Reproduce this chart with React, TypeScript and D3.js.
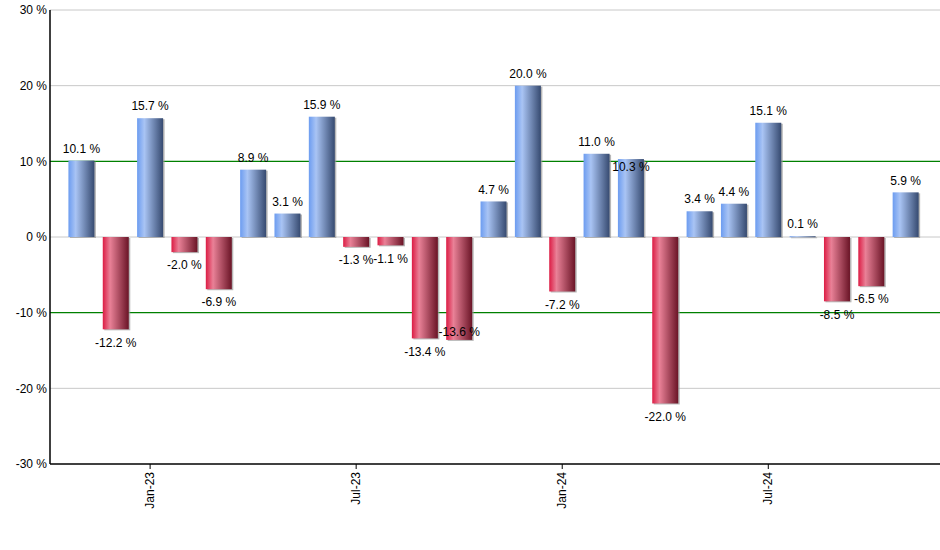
import React from "react";
import * as d3 from "d3";

const months = [
  "Nov-22","Dec-22","Jan-23","Feb-23","Mar-23","Apr-23","May-23","Jun-23","Jul-23","Aug-23","Sep-23","Oct-23","Nov-23","Dec-23",
  "Jan-24","Feb-24","Mar-24","Apr-24","May-24","Jun-24","Jul-24","Aug-24","Sep-24","Oct-24","Nov-24",
];
const values = [10.1, -12.2, 15.7, -2.0, -6.9, 8.9, 3.1, 15.9, -1.3, -1.1, -13.4, -13.6, 4.7, 20.0, -7.2, 11.0, 10.3, -22.0, 3.4, 4.4, 15.1, 0.1, -8.5, -6.5, 5.9];
const xTickLabels = ["Jan-23", "Jul-23", "Jan-24", "Jul-24"];
const yTicks = [-30, -20, -10, 0, 10, 20, 30];
const greenLines = [10, -10];

const W = 940, H = 550;
const left = 50, top = 10, right = 940, bottom = 464;
const font = "'Liberation Sans Narrow', 'Arial Narrow', 'Liberation Sans', Arial, sans-serif";
const fs = 12;

// approximate label width (px) used for collision detection
function estWidth(s: string) {
  let w = 0;
  for (const c of s) {
    if (c >= "0" && c <= "9") w += 6;
    else if (c === ".") w += 3;
    else if (c === "-") w += 4;
    else if (c === " ") w += 3;
    else if (c === "%") w += 9.5;
    else w += 6;
  }
  return w;
}

export default function App() {
  const x = d3.scaleLinear().domain([-0.915, values.length - 1 + 1.0]).range([left, right]);
  const y = d3.scaleLinear().domain([-30, 30]).range([bottom, top]);
  const bw = 26;

  const labels: { x: number; y: number; w: number; text: string }[] = [];
  values.forEach((v, i) => {
    const cx = x(i);
    const text = `${v.toFixed(1)} %`;
    const w = estWidth(text);
    let ly = v >= 0 ? y(v) - 12 : y(v) + 13;
    const prev = labels[i - 1];
    if (prev && Math.abs(prev.y - ly) < 12 && Math.abs(prev.x - cx) < (prev.w + w) / 2 + 1) {
      ly = v >= 0 ? y(v) + 8 : y(v) - 8;
    }
    labels.push({ x: cx, y: ly, w, text });
  });

  return (
    <svg width={W} height={H} style={{ position: "absolute", left: 0, top: 0, background: "#fff" }}>
      <defs>
        <linearGradient id="gBlue" x1="0" x2="1" y1="0" y2="0">
          <stop offset="0" stopColor="#6c9cf0" />
          <stop offset="0.28" stopColor="#a9c4f4" />
          <stop offset="1" stopColor="#364a70" />
        </linearGradient>
        <linearGradient id="gRed" x1="0" x2="1" y1="0" y2="0">
          <stop offset="0" stopColor="#dc1c44" />
          <stop offset="0.28" stopColor="#e98197" />
          <stop offset="1" stopColor="#6a1426" />
        </linearGradient>
      </defs>
      {yTicks.map((t) => (
        <g key={t}>
          {t !== -30 && !greenLines.includes(t) && (
            <line x1={left} x2={right} y1={y(t)} y2={y(t)} stroke="#c8c8c8" strokeWidth={1} />
          )}
          <text x={left - 3} y={y(t)} dy="0.35em" textAnchor="end" fontFamily={font} fontSize={fs} fill="#000">
            {`${t} %`}
          </text>
        </g>
      ))}
      {greenLines.map((g) => (
        <line key={g} x1={left} x2={right} y1={y(g)} y2={y(g)} stroke="#008000" strokeWidth={1.2} />
      ))}
      {values.map((v, i) => {
        const y0 = Math.min(y(v), y(0));
        const h = Math.max(Math.abs(y(v) - y(0)), 1);
        return (
          <g key={i}>
            <rect x={x(i) - bw / 2 + 1.5} y={y0 + 1} width={bw} height={h} fill="#999" opacity={0.7} />
            <rect x={x(i) - bw / 2} y={y0} width={bw} height={h} fill={v >= 0 ? "url(#gBlue)" : "url(#gRed)"} />
          </g>
        );
      })}
      <line x1={left} x2={left} y1={top} y2={bottom} stroke="#000" strokeWidth={1.5} />
      <line x1={left} x2={right} y1={bottom} y2={bottom} stroke="#000" strokeWidth={1.5} />
      {xTickLabels.map((lab) => {
        const i = months.indexOf(lab);
        const cx = x(i);
        return (
          <g key={lab}>
            <line x1={cx} x2={cx} y1={bottom} y2={bottom + 5} stroke="#000" />
            <text
              transform={`translate(${cx},${bottom + 8}) rotate(-90)`}
              dy="0.35em"
              textAnchor="end"
              fontFamily={font}
              fontSize={fs}
              fill="#000"
            >
              {lab}
            </text>
          </g>
        );
      })}
      {labels.map((l, i) => (
        <text key={i} x={l.x} y={l.y} dy="0.35em" textAnchor="middle" fontFamily={font} fontSize={fs} fill="#000">
          {l.text}
        </text>
      ))}
    </svg>
  );
}
